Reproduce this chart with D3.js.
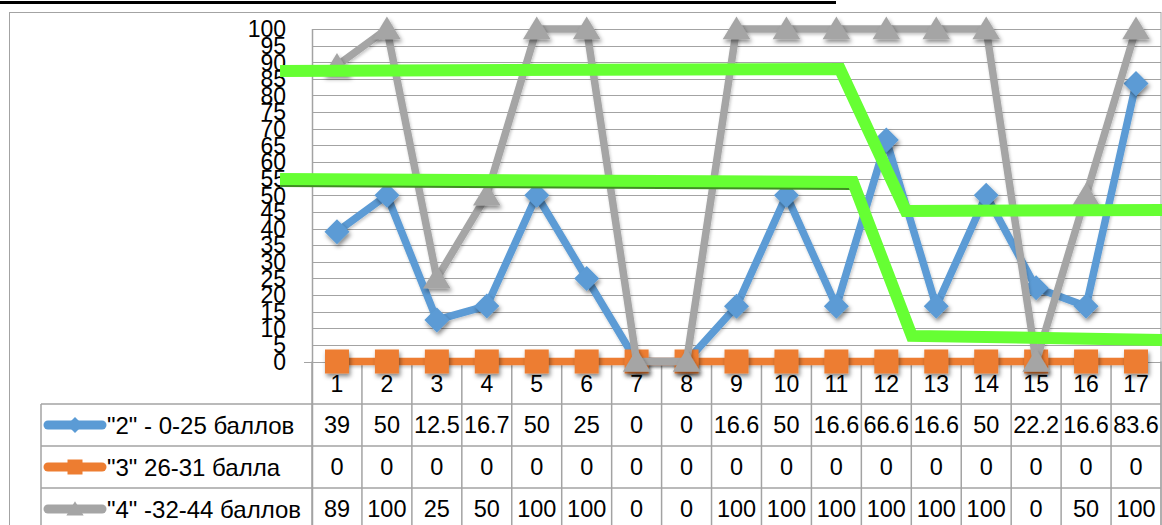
<!DOCTYPE html>
<html>
<head>
<meta charset="utf-8">
<script src="https://cdn.jsdelivr.net/npm/d3@7"></script>
<style>
  html, body { margin: 0; padding: 0; background: #fff; }
  svg { display: block; font-family: "Liberation Sans", Arial, sans-serif; }
</style>
</head>
<body>
<svg id="chart" width="1162" height="525"></svg>
<script>
// Categories (test numbers) along the horizontal axis
const categories = ["1","2","3","4","5","6","7","8","9","10","11","12","13","14","15","16","17"];

// Share of students per grade band, %
const grade2 = [39, 50, 12.5, 16.7, 50, 25, 0, 0, 16.6, 50, 16.6, 66.6, 16.6, 50, 22.2, 16.6, 83.6];
const grade3 = [0, 0, 0, 0, 0, 0, 0, 0, 0, 0, 0, 0, 0, 0, 0, 0, 0];
const grade4 = [89, 100, 25, 50, 100, 100, 0, 0, 100, 100, 100, 100, 100, 100, 0, 50, 100];

const seriesNames = ['"2" - 0-25 баллов', '"3" 26-31 балла', '"4" -32-44 баллов'];
const seriesColors = ["#5b9bd5", "#ed7d31", "#a5a5a5"];
const seriesMarkers = ["diamond", "square", "triangle"];

// Value axis ticks
const yTicks = [0, 5, 10, 15, 20, 25, 30, 35, 40, 45, 50, 55, 60, 65, 70, 75, 80, 85, 90, 95, 100];

// Hand-drawn trend guides, in (category position, value) units
const upperGuideX = [-0.14, 11.07, 12.39, 17.52];
const upperGuideY = [87.4, 88.0, 45.3, 45.6];
const lowerGuideX = [-0.14, 11.33, 12.51, 17.52];
const lowerGuideY = [54.9, 54.0, 7.7, 6.5];

const series = [grade2, grade3, grade4];

const svg = d3.select("#chart");
const W = 1162, H = 525;

const plot = { left: 312, right: 1161, top: 29, bottom: 361.5 };
const tableLeft = 41;
const rowH = 42;
const headerBottom = 404;

const x = d3.scaleBand().domain(categories).range([plot.left, plot.right]).paddingInner(0).paddingOuter(0);
const step = x.step();
const xPos = d3.scaleLinear().domain([1, 17]).range([x("1") + step / 2, x("17") + step / 2]);
const y = d3.scaleLinear().domain([0, 100]).range([plot.bottom, plot.top]);

const gridColor = "#a3a3a3";

// drop shadows used by markers and lines
const defs = svg.append("defs");
const f = defs.append("filter").attr("id", "shadow").attr("x", "-50%").attr("y", "-50%").attr("width", "200%").attr("height", "200%");
f.append("feDropShadow").attr("dx", 1.5).attr("dy", 3).attr("stdDeviation", 2).attr("flood-color", "#000").attr("flood-opacity", 0.45);
const fl = defs.append("filter").attr("id", "lshadow").attr("filterUnits", "userSpaceOnUse")
  .attr("x", 0).attr("y", 0).attr("width", W).attr("height", H);
fl.append("feDropShadow").attr("dx", 1).attr("dy", 2).attr("stdDeviation", 1.5).attr("flood-color", "#000").attr("flood-opacity", 0.22);

// title underline cut at the top
svg.append("rect").attr("x", 0).attr("y", 1).attr("width", 836).attr("height", 3).attr("fill", "#000");

// chart frame
svg.append("rect").attr("x", 9.5).attr("y", 12.5).attr("width", 1151.5).attr("height", 540)
  .attr("fill", "none").attr("stroke", gridColor).attr("stroke-width", 1);

// horizontal gridlines
svg.append("g").selectAll("line").data(yTicks).join("line")
  .attr("x1", d => d === 0 ? plot.left - 8 : plot.left).attr("x2", plot.right)
  .attr("y1", d => Math.round(y(d)) + 0.5).attr("y2", d => Math.round(y(d)) + 0.5)
  .attr("stroke", gridColor).attr("stroke-width", 1.2);

// vertical axis line
svg.append("line").attr("x1", plot.left + 0.5).attr("x2", plot.left + 0.5)
  .attr("y1", plot.top).attr("y2", H).attr("stroke", gridColor).attr("stroke-width", 1.5);

// y tick labels
svg.append("g").selectAll("text").data(yTicks).join("text")
  .attr("x", 286).attr("y", d => y(d)).attr("dy", "0.36em")
  .attr("text-anchor", "end").attr("font-size", 23).attr("fill", "#000")
  .text(d => d);

// data table grid
const tableG = svg.append("g");
const colEdges = d3.range(categories.length + 1).map(i => plot.left + i * step);
tableG.selectAll("line.v").data(colEdges).join("line").attr("class", "v")
  .attr("x1", d => d).attr("x2", d => d).attr("y1", plot.bottom).attr("y2", H)
  .attr("stroke", gridColor).attr("stroke-width", 1.5);
tableG.append("line").attr("x1", tableLeft).attr("x2", tableLeft).attr("y1", headerBottom).attr("y2", H)
  .attr("stroke", gridColor).attr("stroke-width", 1.5);
[0, 1, 2].forEach(r => {
  tableG.append("line").attr("x1", tableLeft).attr("x2", plot.right)
    .attr("y1", headerBottom + r * rowH).attr("y2", headerBottom + r * rowH)
    .attr("stroke", gridColor).attr("stroke-width", 1.5);
});

// category labels
svg.append("g").selectAll("text").data(categories).join("text")
  .attr("x", d => x(d) + step / 2).attr("y", 384).attr("dy", "0.36em")
  .attr("text-anchor", "middle").attr("font-size", 23).text(d => d);

// table values
series.forEach((vals, si) => {
  svg.append("g").selectAll("text").data(vals).join("text")
    .attr("x", (d, i) => x(categories[i]) + step / 2)
    .attr("y", headerBottom + si * rowH + rowH / 2).attr("dy", "0.36em")
    .attr("text-anchor", "middle").attr("font-size", 23.5).text(d => d);
});

// marker shapes
function markerPath(type, s) {
  if (type === "diamond") return `M0,${-s}L${s},0L0,${s}L${-s},0Z`;
  if (type === "square") return `M${-s},${-s}H${s}V${s}H${-s}Z`;
  return `M0,${-s * 1.05}L${s * 1.15},${s * 0.85}H${-s * 1.15}Z`;
}

// legend keys and names in the table
series.forEach((vals, si) => {
  const cy = headerBottom + si * rowH + rowH / 2;
  const g = svg.append("g");
  g.append("line").attr("x1", 48).attr("x2", 102).attr("y1", cy).attr("y2", cy)
    .attr("stroke", seriesColors[si]).attr("stroke-width", 9).attr("stroke-linecap", "round");
  const s = seriesMarkers[si] === "diamond" ? 8 : 7.5;
  g.append("path").attr("d", markerPath(seriesMarkers[si], s))
    .attr("transform", `translate(75,${cy})`).attr("fill", seriesColors[si]);
  g.append("text").attr("x", 107).attr("y", cy).attr("dy", "0.36em")
    .attr("font-size", 24).text(seriesNames[si]);
});

// series lines and markers
const line = d3.line().x((d, i) => x(categories[i]) + step / 2).y(d => y(d));
series.forEach((vals, si) => {
  const g = svg.append("g");
  g.append("path").attr("d", line(vals)).attr("fill", "none")
    .attr("stroke", seriesColors[si]).attr("stroke-width", 7.5)
    .attr("stroke-linejoin", "round").attr("filter", "url(#lshadow)");
  const ms = seriesMarkers[si] === "diamond" ? 12.5 : 12;
  g.selectAll("path.m").data(vals).join("path").attr("class", "m")
    .attr("d", markerPath(seriesMarkers[si], ms))
    .attr("transform", (d, i) => `translate(${x(categories[i]) + step / 2},${y(d)})`)
    .attr("fill", seriesColors[si]).attr("filter", "url(#shadow)");
});

// trend guides drawn over the chart
const guide = d3.line().x(d => xPos(d[0])).y(d => y(d[1]));
const upperPts = upperGuideX.map((v, i) => [v, upperGuideY[i]]);
const lowerPts = lowerGuideX.map((v, i) => [v, lowerGuideY[i]]);
svg.append("path").attr("d", guide(lowerPts.slice(0, 2))).attr("fill", "none")
  .attr("stroke", "#3f8f22").attr("stroke-width", 11).attr("transform", "translate(0,2.5)");
[upperPts, lowerPts].forEach(pts => {
  svg.append("path").attr("d", guide(pts)).attr("fill", "none")
    .attr("stroke", "#66ff33").attr("stroke-width", 12).attr("stroke-linejoin", "miter");
});
</script>
</body>
</html>
